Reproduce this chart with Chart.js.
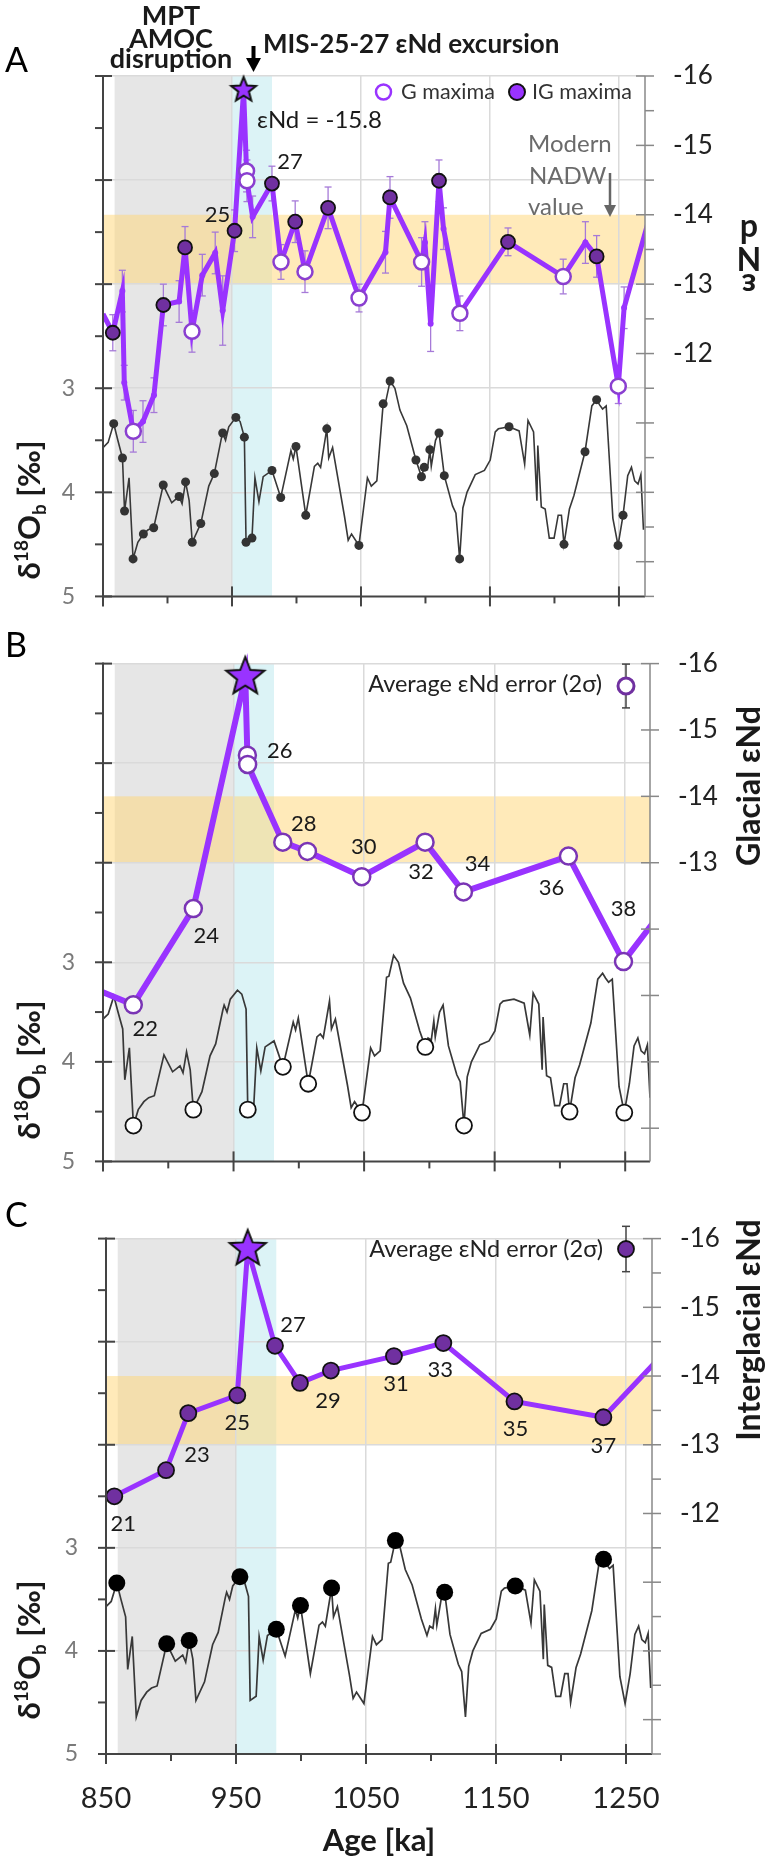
<!DOCTYPE html>
<html><head><meta charset="utf-8">
<title>Nd isotopes and benthic d18O</title>
<script src="https://cdn.jsdelivr.net/npm/chart.js@4.4.1/dist/chart.umd.min.js"></script>
<style>
html,body{margin:0;padding:0;background:#fff;}
body{width:772px;height:1863px;position:relative;overflow:hidden;}
canvas{position:absolute;left:0;}
</style></head><body>
<canvas id="cA" width="772" height="640" style="top:0px"></canvas>
<canvas id="cB" width="772" height="585" style="top:620px"></canvas>
<canvas id="cC" width="772" height="668" style="top:1195px"></canvas>
<script>
// ================= DATA =================
// benthic d18O record (ka, permil)
const ageD18O = [850,854,858.3,861.5,865.1,866.7,870.2,873.3,877,881.3,885,889.3,896.7,903.3,909,911.3,914,916.8,919.2,925.8,932,936.3,941.8,942.8,945,947.5,953,956.3,959.6,960.9,965.5,967.8,970.9,974.2,981,987.8,995.7,997.5,999.6,1007.2,1013.9,1016.5,1018.7,1023.5,1025,1028,1037.2,1040.1,1042.7,1048.4,1055,1058,1062.3,1067.2,1069,1072.6,1076.3,1080.2,1085.5,1092.6,1096.9,1099,1101.5,1103.4,1104.5,1107.8,1110.5,1114.6,1121,1123.6,1126.5,1129,1132.2,1138.6,1145.7,1150.2,1154.1,1156.5,1164.8,1172.6,1176.9,1179.5,1183.8,1186.4,1187.1,1189.8,1192.8,1196,1199.7,1202.9,1205.4,1207.4,1211.6,1215.1,1223.7,1229,1232.7,1235,1237.3,1240.1,1245.3,1249.3,1253.2,1256.8,1259.7,1262.2,1264.8,1267,1269];
const d18O = [3.57,3.52,3.34,3.50,3.67,4.18,3.86,4.64,4.48,4.40,4.36,4.34,3.93,4.10,4.04,4.11,3.90,4.08,4.48,4.30,3.94,3.82,3.48,3.43,3.50,3.37,3.28,3.32,3.47,4.48,4.44,3.86,4.09,3.85,3.79,4.05,3.60,3.68,3.56,4.22,3.75,3.72,3.76,3.39,3.67,3.57,4.23,4.46,4.40,4.51,3.86,3.94,3.89,3.15,3.14,2.93,3.00,3.21,3.36,3.69,3.85,3.76,3.78,3.59,3.75,3.50,3.43,3.84,4.13,4.20,4.64,4.15,4.00,3.83,3.79,3.69,3.42,3.39,3.37,3.41,3.73,3.31,3.42,4.08,3.55,4.14,4.16,4.44,4.44,4.22,4.22,4.50,4.16,4.03,3.61,3.17,3.11,3.16,3.20,3.17,4.25,4.51,4.22,3.84,3.76,3.89,3.92,3.83,4.36];
// d18O at the Nd sample depths (panel A)
const sampleAge = [858.3,865.1,866.7,873.3,881.3,889.3,896.7,909,914,919.2,925.8,936.3,942.8,953,959.6,960.9,965.5,981,987.8,999.6,1007.2,1023.5,1048.4,1067.2,1072.6,1092.6,1096.9,1099,1103.4,1110.5,1114.6,1126.5,1164.8,1207.4,1223.7,1232.7,1249.3,1253.2];
const sampleD18O = [3.34,3.67,4.18,4.64,4.40,4.34,3.93,4.04,3.90,4.48,4.30,3.82,3.43,3.28,3.47,4.48,4.44,3.79,4.05,3.56,4.22,3.39,4.51,3.15,2.93,3.69,3.85,3.76,3.59,3.43,3.84,4.64,3.37,4.50,3.61,3.11,4.51,4.22];
// glacial d18O maxima (panel B) and interglacial d18O minima (panel C)
const glacialD18OAge = [873.3,919.2,960.9,987.8,1007.2,1048.4,1096.9,1126.5,1207.4,1249.3];
const glacialD18O = [4.64,4.48,4.48,4.05,4.22,4.51,3.85,4.64,4.50,4.51];
const interD18OAge = [858.3,896.7,914,953,981,999.6,1023.5,1072.6,1110.5,1164.8,1232.7];
const interD18O = [3.34,3.93,3.90,3.28,3.79,3.56,3.39,2.93,3.43,3.37,3.11];

// Panel A: all eNd data (s = sample, G = glacial max, IG = interglacial max)
const pn3Age = [850,857.6,865,866.5,873.5,881,889.5,896.8,909,913.6,919,927,937,942.8,952,959,961.3,961.6,966,981,988,999,1006.6,1024.5,1048.5,1069,1072.5,1097,1099.6,1104,1110.5,1114,1126.7,1164,1206.8,1224,1232.7,1249.5,1254,1272];
const pn3Nd = [-12.57,-12.30,-12.90,-11.58,-10.88,-11.02,-11.40,-12.70,-12.75,-13.53,-12.32,-13.13,-13.45,-12.62,-13.77,-15.8,-14.63,-14.49,-13.97,-14.45,-13.32,-13.90,-13.18,-14.10,-12.80,-13.46,-14.25,-13.32,-13.60,-12.43,-14.49,-13.80,-12.58,-13.61,-13.11,-13.60,-13.40,-11.53,-12.66,-13.85];
const pn3Err = [0,0.26,0.3,0.25,0.3,0.3,0.25,0.3,0.3,0.3,0.3,0.3,0.3,0.5,0.3,0,0.3,0.3,0.3,0.25,0.25,0.3,0.3,0.3,0.2,0.3,0.3,0.35,0.3,0.4,0.3,0.3,0.25,0.2,0.25,0.3,0.3,0.25,0.3,0];
const pn3Type = ['edge','IG','s','s','G','s','s','IG','s','IG','G','s','s','s','IG','star','G','G','s','IG','G','IG','G','IG','G','s','IG','G','s','s','IG','s','G','IG','G','s','IG','G','s','edge'];
const pn3MIS = ['','','','','','','','','','','','','','','25','','','','','27','','','','','','','','','','','','','','','','','','','',''];

// Panel B: glacial eNd
const glacialAge = [850,873.2,919.2,959,960.6,960.8,987.7,1006.6,1048.2,1096.7,1126.1,1206.5,1248.7,1272];
const glacialNd = [-11.05,-10.86,-12.31,-15.8,-14.62,-14.48,-13.31,-13.17,-12.79,-13.31,-12.56,-13.10,-11.51,-12.11];
const glacialType = ['edge','G','G','star','G','G','G','G','G','G','G','G','G','edge'];
const glacialMIS = ['','22','24','','','26','28','','30','32','34','36','38',''];

// Panel C: interglacial eNd
const interAge = [856.4,896.2,913.3,951,959,980,999.2,1023,1071.5,1109.5,1164.2,1232.6,1272];
const interNd = [-12.25,-12.63,-13.46,-13.72,-15.85,-14.44,-13.90,-14.08,-14.29,-14.48,-13.63,-13.40,-14.19];
const interType = ['IG','IG','IG','IG','star','IG','IG','IG','IG','IG','IG','IG','edge'];
const interMIS = ['21','23','','25','','27','29','','31','33','35','37',''];

// shaded intervals
const mptRange = [859, 950];
const excursionRange = [950, 981];
const nadwRange = [-14, -13];
const avgNdErr2s = 0.33;

// axis ticks
const ageTickValues = [850,900,950,1000,1050,1100,1150,1200,1250];
const ageTickLabels = [850,950,1050,1150,1250];
const ageGridValues = [950,1050,1150,1250];
const d18OTickValues = [0,0.5,1,1.5,2,2.5,3,3.5,4,4.5,5];
const d18OTickLabels = [3,4,5];
const d18OGridValues = [0,1,2,3,4];
const ndTickValues = [-16,-15.5,-15,-14.5,-14,-13.5,-13,-12.5,-12,-11.5,-11,-10.5,-10,-9.5,-9,-8.5];
const ndTickLabelsA = [-16,-15,-14,-13,-12];
const ndTickLabelsB = [-16,-15,-14,-13];
const ndTickLabelsC = [-16,-15,-14,-13,-12];

// ================= STYLE / HELPERS =================
const LATO = 'Lato, "Open Sans", "DejaVu Sans", sans-serif';
Chart.defaults.font.family = LATO;
const F = (size, bold) => (bold ? 'bold ' : '') + size + 'px ' + LATO;
const PURPLE = '#9933ff', DPURPLE = '#7030a0', INK = '#1a1a1a';

function pts(xs, ys) { return xs.map((x, i) => ({ x: x, y: ys[i] })); }
function line(ctx, x1, y1, x2, y2) { ctx.beginPath(); ctx.moveTo(x1, y1); ctx.lineTo(x2, y2); ctx.stroke(); }
function txt(ctx, s, x, y, font, color, align, base) {
  ctx.font = font; ctx.fillStyle = color; ctx.textAlign = align || 'left';
  ctx.textBaseline = base || 'alphabetic'; ctx.fillText(s, x, y);
}
function makeStar(r) {
  const s = Math.ceil(2 * r + 6);
  const c = document.createElement('canvas'); c.width = s; c.height = s;
  const g = c.getContext('2d');
  g.translate(s / 2, s / 2);
  g.beginPath();
  for (let i = 0; i < 10; i++) {
    const rr = i % 2 ? r * 0.43 : r;
    const a = -Math.PI / 2 + i * Math.PI / 5;
    g.lineTo(rr * Math.cos(a), rr * Math.sin(a));
  }
  g.closePath(); g.fillStyle = PURPLE; g.fill();
  g.lineJoin = 'miter'; g.lineWidth = 2; g.strokeStyle = '#111'; g.stroke();
  return c;
}

const shadePlugin = {
  id: 'shade',
  beforeDraw(chart) {
    const { ctx, chartArea: a, scales: { x, ye } } = chart;
    ctx.save();
    const g0 = x.getPixelForValue(mptRange[0]), g1 = x.getPixelForValue(mptRange[1]);
    const c0 = x.getPixelForValue(excursionRange[0]), c1 = x.getPixelForValue(excursionRange[1]);
    ctx.fillStyle = '#e6e6e6'; ctx.fillRect(g0, a.top, g1 - g0, a.bottom - a.top);
    ctx.fillStyle = '#dcf3f6'; ctx.fillRect(c0, a.top, c1 - c0, a.bottom - a.top);
    const o0 = ye.getPixelForValue(nadwRange[0]), o1 = ye.getPixelForValue(nadwRange[1]);
    ctx.fillStyle = 'rgba(255,214,115,0.5)';
    ctx.fillRect(a.left, Math.min(o0, o1), a.right - a.left, Math.abs(o1 - o0));
    ctx.restore();
  }
};

const axesPlugin = {
  id: 'axesLines',
  afterDatasetsDraw(chart) {
    const { ctx, chartArea: a, scales: { x, yd, ye } } = chart;
    ctx.save();
    ctx.strokeStyle = '#444'; ctx.lineWidth = 2;
    line(ctx, a.left, a.top - 1, a.left, a.bottom + 1);
    yd.ticks.forEach(t => {
      const p = yd.getPixelForValue(t.value);
      const major = Number.isInteger(t.value);
      line(ctx, a.left - 8, p, a.left + (major ? 9 : 0), p);
    });
    line(ctx, a.left, a.bottom, a.right, a.bottom);
    x.ticks.forEach(t => {
      const p = x.getPixelForValue(t.value);
      const major = ageTickLabels.includes(t.value);
      line(ctx, p, a.bottom - (major && t.value !== 850 ? 10 : 0), p, a.bottom + (major ? 10 : 7));
    });
    ctx.strokeStyle = '#888'; ctx.lineWidth = 1.5;
    line(ctx, a.right, a.top, a.right, a.bottom);
    ye.ticks.forEach(t => {
      const p = ye.getPixelForValue(t.value);
      const major = Number.isInteger(t.value);
      line(ctx, a.right - (major ? 9 : 0), p, a.right + 9, p);
    });
    ctx.restore();
  }
};

function misPlugin(ages, nds, mis, offsets) {
  return {
    id: 'misLabels',
    afterDatasetsDraw(chart) {
      const { ctx, scales: { x, ye } } = chart;
      ctx.save();
      mis.forEach((m, i) => {
        if (!m) return;
        const o = offsets[m];
        txt(ctx, m, x.getPixelForValue(ages[i]) + o[0], ye.getPixelForValue(nds[i]) + o[1], F(22), INK, 'center', 'middle');
      });
      ctx.restore();
    }
  };
}

const errPlugin = {
  id: 'errBars',
  beforeDatasetsDraw(chart) {
    const { ctx, scales: { x, ye } } = chart;
    ctx.save(); ctx.strokeStyle = '#a67ad8'; ctx.lineWidth = 1.3;
    pn3Age.forEach((a, i) => {
      const e = pn3Err[i]; if (!e) return;
      const px = x.getPixelForValue(a);
      const y1 = ye.getPixelForValue(pn3Nd[i] - e), y2 = ye.getPixelForValue(pn3Nd[i] + e);
      line(ctx, px, y1, px, y2); line(ctx, px - 3.5, y1, px + 3.5, y1); line(ctx, px - 3.5, y2, px + 3.5, y2);
    });
    ctx.restore();
  }
};

function d18OTitle(ctx, xb, yc) {
  ctx.save(); ctx.translate(xb, yc); ctx.rotate(-Math.PI / 2);
  const parts = [['δ', 31, 0], ['18', 19, -12], ['O', 31, 0], ['b', 19, 6], [' [‰]', 31, 0]];
  let w = 0;
  parts.forEach(p => { ctx.font = F(p[1], true); w += ctx.measureText(p[0]).width; });
  let cx = -w / 2;
  ctx.fillStyle = INK; ctx.textAlign = 'left'; ctx.textBaseline = 'alphabetic';
  parts.forEach(p => { ctx.font = F(p[1], true); ctx.fillText(p[0], cx, p[2]); cx += ctx.measureText(p[0]).width; });
  ctx.restore();
}
function rightTitle(ctx, s, xb, yc) {
  ctx.save(); ctx.translate(xb, yc); ctx.rotate(-Math.PI / 2);
  txt(ctx, s, 0, 0, F(32, true), INK, 'center', 'alphabetic');
  ctx.restore();
}
// stacked, upside-down glyphs (as in the original panel A axis title)
function stackedFlippedTitle(ctx, s, xc, yTop, step) {
  const chars = Array.from(s).reverse();
  chars.forEach((ch, i) => {
    ctx.save(); ctx.translate(xc, yTop + i * step); ctx.rotate(Math.PI);
    txt(ctx, ch, 0, 0, F(32, true), INK, 'center', 'middle');
    ctx.restore();
  });
}
function errSymbol(chart, px, py, filled) {
  const ctx = chart.ctx, ye = chart.scales.ye;
  const h = Math.abs(ye.getPixelForValue(-15 + avgNdErr2s) - ye.getPixelForValue(-15));
  ctx.strokeStyle = '#444'; ctx.lineWidth = 1.5;
  line(ctx, px, py - h, px, py + h); line(ctx, px - 4, py - h, px + 4, py - h); line(ctx, px - 4, py + h, px + 4, py + h);
  ctx.beginPath(); ctx.arc(px, py, 8, 0, Math.PI * 2);
  ctx.fillStyle = filled ? DPURPLE : '#fff'; ctx.fill();
  ctx.lineWidth = filled ? 1.8 : 3; ctx.strokeStyle = filled ? '#111' : DPURPLE; ctx.stroke();
}

function baseOptions(o) {
  const tv = vals => (axis => { axis.ticks = vals.map(v => ({ value: v })); });
  return {
    responsive: false, maintainAspectRatio: false, animation: false, events: [],
    layout: { padding: { top: o.padTop, left: 0, right: 0, bottom: 0 } },
    plugins: { legend: { display: false }, tooltip: { enabled: false }, title: { display: false } },
    scales: {
      x: {
        type: 'linear', min: 850, max: o.xMax,
        afterBuildTicks: tv(ageTickValues),
        afterFit: s => { s.height = o.xH; },
        ticks: { autoSkip: false, maxRotation: 0, padding: 27, color: '#222', font: { family: LATO, size: 29 },
          callback: v => (o.xLabels && ageTickLabels.includes(v)) ? String(v) : '' },
        grid: { drawTicks: false, lineWidth: 1.5, color: c => (c.tick && ageGridValues.includes(c.tick.value)) ? '#dadada' : 'rgba(0,0,0,0)' },
        border: { display: false }
      },
      yd: {
        type: 'linear', position: 'left', reverse: true, min: 0, max: 5,
        afterBuildTicks: tv(d18OTickValues),
        afterFit: s => { s.width = o.left; },
        ticks: { padding: 28, color: '#7a7a7a', font: { family: LATO, size: 23 },
          callback: v => d18OTickLabels.includes(v) ? String(v) : '' },
        grid: { drawTicks: false, lineWidth: 1.5, color: c => (c.tick && d18OGridValues.includes(c.tick.value)) ? '#dadada' : 'rgba(0,0,0,0)' },
        border: { display: false }
      },
      ye: {
        type: 'linear', position: 'right', reverse: true, min: -16, max: -8.5,
        afterBuildTicks: tv(ndTickValues),
        afterFit: s => { s.width = 772 - o.right; },
        ticks: { padding: 28, color: '#222', font: { family: LATO, size: 26 },
          callback: v => o.ndLabels.includes(v) ? String(v) : '' },
        grid: { display: false, drawTicks: false },
        border: { display: false }
      }
    }
  };
}

function starDataset(ages, nds, types, r) {
  const img = makeStar(r);
  return {
    data: pts(ages, nds).filter((p, i) => types[i] === 'star'),
    yAxisID: 'ye', showLine: false, pointStyle: img, pointRadius: r, clip: false, order: 0
  };
}
function seriesDataset(ages, nds, types, st, width) {
  return {
    data: pts(ages, nds), yAxisID: 'ye', borderColor: PURPLE, borderWidth: width, tension: 0,
    pointRadius: c => st[types[c.dataIndex]].r,
    pointBackgroundColor: c => st[types[c.dataIndex]].bg,
    pointBorderColor: c => st[types[c.dataIndex]].bc,
    pointBorderWidth: c => st[types[c.dataIndex]].bw,
    clip: { left: 0, top: false, right: 0, bottom: 0 }, order: 1
  };
}
const hidden = { r: 0, bg: PURPLE, bc: PURPLE, bw: 0 };

// ================= PANEL A =================
const textA = {
  id: 'textA',
  afterDraw(chart) {
    const ctx = chart.ctx; ctx.save();
    txt(ctx, 'A', 5, 72, F(34), '#000');
    txt(ctx, 'MPT', 171, 25, F(27, true), INK, 'center');
    txt(ctx, 'AMOC', 171, 48, F(27, true), INK, 'center');
    txt(ctx, 'disruption', 171, 68, F(27, true), INK, 'center');
    // black arrow
    ctx.strokeStyle = '#000'; ctx.lineWidth = 4; line(ctx, 253.5, 46, 253.5, 62);
    ctx.fillStyle = '#000'; ctx.beginPath(); ctx.moveTo(246, 58); ctx.lineTo(261, 58); ctx.lineTo(253.5, 72); ctx.closePath(); ctx.fill();
    txt(ctx, 'MIS-25-27 εNd excursion', 263, 53, F(26, true), INK);
    // legend
    ctx.beginPath(); ctx.arc(383.5, 92, 7.5, 0, Math.PI * 2); ctx.fillStyle = '#fff'; ctx.fill();
    ctx.lineWidth = 2.5; ctx.strokeStyle = PURPLE; ctx.stroke();
    txt(ctx, 'G maxima', 401, 92, F(21.5), '#333', 'left', 'middle');
    ctx.beginPath(); ctx.arc(517, 92, 8, 0, Math.PI * 2); ctx.fillStyle = PURPLE; ctx.fill();
    ctx.lineWidth = 2; ctx.strokeStyle = '#111'; ctx.stroke();
    txt(ctx, 'IG maxima', 532, 92, F(21.5), '#333', 'left', 'middle');
    txt(ctx, 'εNd = -15.8', 257, 128, F(24), INK);
    // modern NADW
    txt(ctx, 'Modern', 528, 152, F(24), '#6b6b6b');
    txt(ctx, 'NADW', 529, 184, F(24), '#6b6b6b');
    txt(ctx, 'value', 528, 215, F(24), '#6b6b6b');
    ctx.strokeStyle = '#666'; ctx.lineWidth = 2.5; line(ctx, 610, 173, 610, 208);
    ctx.fillStyle = '#666'; ctx.beginPath(); ctx.moveTo(604, 205); ctx.lineTo(616, 205); ctx.lineTo(610, 217); ctx.closePath(); ctx.fill();
    stackedFlippedTitle(ctx, 'εNd', 749, 230, 27);
    d18OTitle(ctx, 40, 510);
    ctx.restore();
  }
};
const stA = {
  s: { r: 3, bg: PURPLE, bc: PURPLE, bw: 0 },
  IG: { r: 7, bg: DPURPLE, bc: '#111', bw: 1.8 },
  G: { r: 7.5, bg: '#fff', bc: '#8a3fd0', bw: 2.5 },
  star: hidden, edge: hidden
};
new Chart(document.getElementById('cA'), {
  type: 'line',
  data: { datasets: [
    starDataset(pn3Age, pn3Nd, pn3Type, 13),
    seriesDataset(pn3Age, pn3Nd, pn3Type, stA, 5),
    { data: pts(sampleAge, sampleD18O), yAxisID: 'yd', showLine: false, pointRadius: 4.5, pointBackgroundColor: '#333', pointBorderWidth: 0, order: 2 },
    { data: pts(ageD18O, d18O), yAxisID: 'yd', borderColor: '#383838', borderWidth: 1.6, pointRadius: 0, tension: 0, order: 3 }
  ] },
  options: baseOptions({ padTop: 76, xH: 23, left: 103, right: 645, xMax: 1270.2, xLabels: false, ndLabels: ndTickLabelsA }),
  plugins: [shadePlugin, errPlugin, axesPlugin, misPlugin(pn3Age, pn3Nd, pn3MIS, { '25': [-17, -16], '27': [18, -22] }), textA]
});

// ================= PANEL B =================
const textB = {
  id: 'textB',
  afterDraw(chart) {
    const ctx = chart.ctx, oy = 620; ctx.save();
    txt(ctx, 'B', 5, 657 - oy, F(34), '#000');
    txt(ctx, 'Average εNd error (2σ)', 602, 692 - oy, F(23.5), '#222', 'right');
    errSymbol(chart, 626, 686 - oy, false);
    rightTitle(ctx, 'Glacial εNd', 760, 786 - oy);
    d18OTitle(ctx, 40, 1070 - oy);
    ctx.restore();
  }
};
const stB = {
  G: { r: 8.5, bg: '#fff', bc: '#7a35b5', bw: 2.5 },
  star: hidden, edge: hidden
};
new Chart(document.getElementById('cB'), {
  type: 'line',
  data: { datasets: [
    starDataset(glacialAge, glacialNd, glacialType, 20),
    seriesDataset(glacialAge, glacialNd, glacialType, stB, 6),
    { data: pts(glacialD18OAge, glacialD18O), yAxisID: 'yd', showLine: false, pointRadius: 8, pointBackgroundColor: '#fff', pointBorderColor: '#111', pointBorderWidth: 1.8, order: 2 },
    { data: pts(ageD18O, d18O), yAxisID: 'yd', borderColor: '#383838', borderWidth: 1.7, pointRadius: 0, tension: 0, order: 3 }
  ] },
  options: baseOptions({ padTop: 29, xH: 17, left: 103, right: 650, xMax: 1269, xLabels: false, ndLabels: ndTickLabelsB }),
  plugins: [shadePlugin, axesPlugin, misPlugin(glacialAge, glacialNd, glacialMIS, {
    '22': [12, 24], '24': [13, 27], '26': [32, -14], '28': [21, -18], '30': [2, -30],
    '32': [-4, 30], '34': [14, -28], '36': [-17, 32], '38': [0, -53] }), textB]
});

// ================= PANEL C =================
const textC = {
  id: 'textC',
  afterDraw(chart) {
    const ctx = chart.ctx, oy = 1195; ctx.save();
    txt(ctx, 'C', 5, 1227 - oy, F(34), '#000');
    txt(ctx, 'Average εNd error (2σ)', 603, 1257 - oy, F(23.5), '#222', 'right');
    errSymbol(chart, 626, 1249 - oy, true);
    rightTitle(ctx, 'Interglacial εNd', 760, 1330 - oy);
    d18OTitle(ctx, 40, 1650 - oy);
    txt(ctx, 'Age [ka]', 379, 1851 - oy, F(31, true), INK, 'center');
    ctx.restore();
  }
};
const stC = {
  IG: { r: 8, bg: DPURPLE, bc: '#111', bw: 1.8 },
  star: hidden, edge: hidden
};
new Chart(document.getElementById('cC'), {
  type: 'line',
  data: { datasets: [
    starDataset(interAge, interNd, interType, 19),
    seriesDataset(interAge, interNd, interType, stC, 5),
    { data: pts(interD18OAge, interD18O), yAxisID: 'yd', showLine: false, pointRadius: 8.5, pointBackgroundColor: '#000', pointBorderWidth: 0, order: 2 },
    { data: pts(ageD18O, d18O), yAxisID: 'yd', borderColor: '#383838', borderWidth: 1.7, pointRadius: 0, tension: 0, order: 3 }
  ] },
  options: baseOptions({ padTop: 19, xH: 109, left: 106, right: 652, xMax: 1270, xLabels: true, ndLabels: ndTickLabelsC }),
  plugins: [shadePlugin, axesPlugin, misPlugin(interAge, interNd, interMIS, {
    '21': [9, 28], '23': [31, -15], '25': [0, 28], '27': [18, -21], '29': [28, 18],
    '31': [2, 28], '33': [-3, 27], '35': [1, 27], '37': [0, 29] }), textC]
});
</script></body></html>
